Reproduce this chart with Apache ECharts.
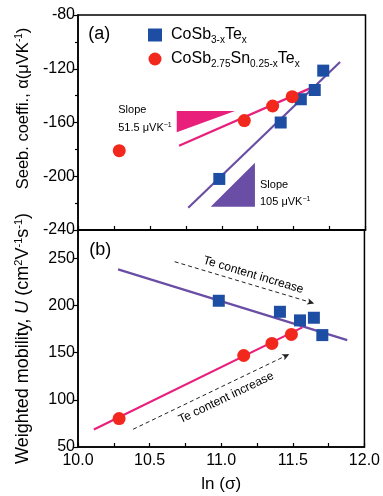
<!DOCTYPE html>
<html>
<head>
<meta charset="utf-8">
<script src="https://cdn.jsdelivr.net/npm/echarts@6/dist/echarts.min.js"></script>
<style>
html,body{margin:0;padding:0;background:#fff;}
#c{width:383px;height:496px;}
</style>
</head>
<body>
<div id="c"></div>
<script>
// ---- data ----
const teLnSigma = [10.983, 11.41, 11.55, 11.647, 11.706];
const teSeebeck = [-202, -160, -142.7, -135.8, -121.4];
const teMobility = [205, 193.3, 184.2, 187, 168.6];

const snLnSigma = [10.287, 11.157, 11.354, 11.49];
const snSeebeck = [-181, -158.6, -147.7, -140.8];
const snMobility = [80.1, 147, 159.8, 169.3];

const teSeebeckFit = [[10.767, -223.4], [11.823, -115]];
const snSeebeckFit = [[10.703, -177.3], [11.614, -134.6]];
const teMobilityFit = [[10.28, 238.3], [11.88, 163.3]];
const snMobilityFit = [[10.111, 68.5], [11.567, 176.8]];

const snSlopeTriangle = [10.687, -151.4, 11.092, -151.4, 10.687, -167.3];
const teSlopeTriangle = [10.923, -222.7, 11.231, -222.7, 11.231, -189.9];

const teArrow = [[10.675, 246.4], [11.649, 202.2]];
const snArrow = [[10.385, 68.8], [11.475, 148.4]];

const xTicks = {min: 10, max: 12, step: 0.5};
const seebeckTicks = {min: -240, max: -80, step: 40};
const mobilityTicks = {min: 50, max: 280, step: 50};

const teName = 'CoSb3-xTex';
const snName = 'CoSb2.75Sn0.25-xTex';

// annotation texts [x, y] in data units
const topNotes = [
  {pos: [10.072, -94], text: '(a)', kind: 'panel'},
  {pos: [10.28, -150.7], text: 'Slope', kind: 'small'},
  {pos: [10.28, -164.3], text: '51.5 μVK{sup|−1}', kind: 'small'},
  {pos: [11.266, -206.5], text: 'Slope', kind: 'small'},
  {pos: [11.266, -219.2], text: '105 μVK{sup|−1}', kind: 'small'}
];
const bottomNotes = [
  {pos: [10.078, 258.8], text: '(b)', kind: 'panel'},
  {pos: [11.224, 232.3], text: 'Te content increase', kind: 'arrow', arrow: teArrow},
  {pos: [11.034, 102.2], text: 'Te content increase', kind: 'arrow', arrow: snArrow}
];

// ---- styling ----
const FONT = 'Liberation Sans, Arial, sans-serif';
const BLUE = '#1d4ea3';
const RED = '#f2281c';
const PINK = '#e8207c';
const PURPLE = '#6a4ea6';

const pair = (xs, ys) => xs.map((x, i) => [x, ys[i]]);

function xAxis(grid, labels) {
  return {
    type: 'value', gridIndex: grid, min: xTicks.min, max: xTicks.max, interval: xTicks.step,
    axisLine: {show: true, lineStyle: {color: '#000', width: 1.5}},
    axisTick: {show: true, inside: true, length: 4, lineStyle: {color: '#000', width: 1.2}},
    minorTick: {show: true, splitNumber: 2, length: 4, lineStyle: {color: '#000', width: 1.2}},
    splitLine: {show: false},
    axisLabel: {show: labels, fontSize: 16, color: '#000', fontFamily: FONT, margin: 6,
      formatter: v => v.toFixed(1)},
    name: labels ? 'ln (σ)' : '', nameLocation: 'middle', nameGap: 29,
    nameTextStyle: {fontSize: 17, color: '#000', fontFamily: FONT}
  };
}

function richFor(size) {
  return {
    sup: {fontSize: Math.round(size * 0.62), fontFamily: FONT, color: '#000', padding: [0, 0, Math.round(size * 0.5), 0]},
    it: {fontSize: size, fontFamily: FONT, color: '#000', fontStyle: 'italic'}
  };
}

function yAxis(grid, t, name, size, minor, pad) {
  return {
    type: 'value', gridIndex: grid, min: t.min, max: t.max, interval: t.step,
    axisLine: {show: true, lineStyle: {color: '#000', width: 1.5}},
    axisTick: {show: true, inside: false, length: 5, lineStyle: {color: '#000', width: 1.2}},
    minorTick: {show: minor, splitNumber: 2, length: 3, lineStyle: {color: '#000', width: 1.2}},
    splitLine: {show: false},
    axisLabel: {fontSize: 16, color: '#000', fontFamily: FONT, margin: 3, showMaxLabel: minor},
    name: name, nameLocation: 'middle', nameRotate: 90, nameGap: 45,
    nameTextStyle: {fontSize: size, color: '#000', fontFamily: FONT, rich: richFor(size), padding: pad}
  };
}

function fitLine(xi, yi, pts, color) {
  return {type: 'line', xAxisIndex: xi, yAxisIndex: yi, data: pts, showSymbol: false, silent: true,
    lineStyle: {color: color, width: 2.2}, z: 2};
}

function scatter(name, xi, yi, pts, symbol, size, color) {
  return {type: 'scatter', name: name, xAxisIndex: xi, yAxisIndex: yi, data: pts,
    symbol: symbol, symbolSize: size, itemStyle: {color: color, opacity: 1}, z: 5};
}

function triangle(xi, yi, verts, color) {
  return {type: 'custom', xAxisIndex: xi, yAxisIndex: yi, data: [verts], silent: true, z: 1,
    renderItem: (params, api) => {
      const pts = [];
      for (let k = 0; k < 3; k++) pts.push(api.coord([api.value(2 * k), api.value(2 * k + 1)]));
      return {type: 'polygon', shape: {points: pts}, style: {fill: color}};
    }};
}

function arrowSeries(xi, yi, arrows) {
  return {type: 'line', xAxisIndex: xi, yAxisIndex: yi, data: [], silent: true,
    markLine: {silent: true, symbol: ['none', 'arrow'], symbolSize: [5, 7], animation: false,
      label: {show: false},
      lineStyle: {type: [4, 3], color: '#222', width: 1},
      data: arrows.map(a => [{coord: a[0]}, {coord: a[1]}])}};
}

function notesSeries(xi, yi, notes) {
  return {type: 'custom', xAxisIndex: xi, yAxisIndex: yi, silent: true, clip: false, z: 6,
    data: notes.map((n, i) => [n.pos[0], n.pos[1], i]),
    renderItem: (params, api) => {
      const n = notes[api.value(2)];
      const p = api.coord([api.value(0), api.value(1)]);
      let rot = 0, size = 11, align = 'left';
      if (n.kind === 'panel') size = 18;
      if (n.kind === 'arrow') {
        const a = api.coord(n.arrow[0]), b = api.coord(n.arrow[1]);
        rot = -Math.atan2(b[1] - a[1], b[0] - a[0]);
        size = 12; align = 'center';
      }
      return {type: 'text', x: p[0], y: p[1], rotation: rot,
        style: {text: n.text, fill: '#000', fontSize: size, fontFamily: FONT,
          align: align, verticalAlign: 'middle',
          rich: {sup: {fontSize: 7, fontFamily: FONT, fill: '#000', padding: [0, 0, 6, 0]}}}};
    }};
}

const chart = echarts.init(document.getElementById('c'), null, {renderer: 'canvas'});
chart.setOption({
  animation: false,
  backgroundColor: '#fff',
  grid: [
    {left: 78, right: 17.5, top: 15, height: 215, show: true, borderColor: '#000', borderWidth: 1.5, backgroundColor: 'transparent'},
    {left: 78, right: 17.5, top: 230, height: 217, show: true, borderColor: '#000', borderWidth: 1.5, backgroundColor: 'transparent'}
  ],
  xAxis: [xAxis(0, false), xAxis(1, true)],
  yAxis: [
    yAxis(0, seebeckTicks, 'Seeb. coeffi., α(μVK{sup|-1})', 16.5, true, [0, 0, 0, 28]),
    yAxis(1, mobilityTicks, 'Weighted mobility, {it|U} (cm{sup|2}V{sup|-1}s{sup|-1})', 18, false, 0)
  ],
  legend: {
    orient: 'vertical', left: 143, top: 22, itemGap: 6, itemWidth: 14, itemHeight: 13,
    data: [{name: teName, icon: 'rect'}, {name: snName, icon: 'circle'}],
    formatter: name => name === teName
      ? '{n|CoSb}{s|3-x}{n|Te}{s|x}'
      : '{n|CoSb}{s|2.75}{n|Sn}{s|0.25-x}{n|Te}{s|x}',
    textStyle: {
      fontFamily: FONT, color: '#000', padding: [0, 0, 0, 4],
      rich: {
        n: {fontSize: 16, fontFamily: FONT, color: '#000'},
        s: {fontSize: 10, fontFamily: FONT, color: '#000', padding: [10, 0, 0, 0]}
      }
    }
  },
  series: [
    triangle(0, 0, snSlopeTriangle, PINK),
    triangle(0, 0, teSlopeTriangle, PURPLE),
    fitLine(0, 0, teSeebeckFit, PURPLE),
    fitLine(0, 0, snSeebeckFit, PINK),
    fitLine(1, 1, teMobilityFit, PURPLE),
    fitLine(1, 1, snMobilityFit, PINK),
    arrowSeries(1, 1, [teArrow, snArrow]),
    scatter(teName, 0, 0, pair(teLnSigma, teSeebeck), 'rect', 12, BLUE),
    scatter(snName, 0, 0, pair(snLnSigma, snSeebeck), 'circle', 13, RED),
    scatter(teName, 1, 1, pair(teLnSigma, teMobility), 'rect', 12, BLUE),
    scatter(snName, 1, 1, pair(snLnSigma, snMobility), 'circle', 13, RED),
    notesSeries(0, 0, topNotes),
    notesSeries(1, 1, bottomNotes)
  ]
});
</script>
</body>
</html>
